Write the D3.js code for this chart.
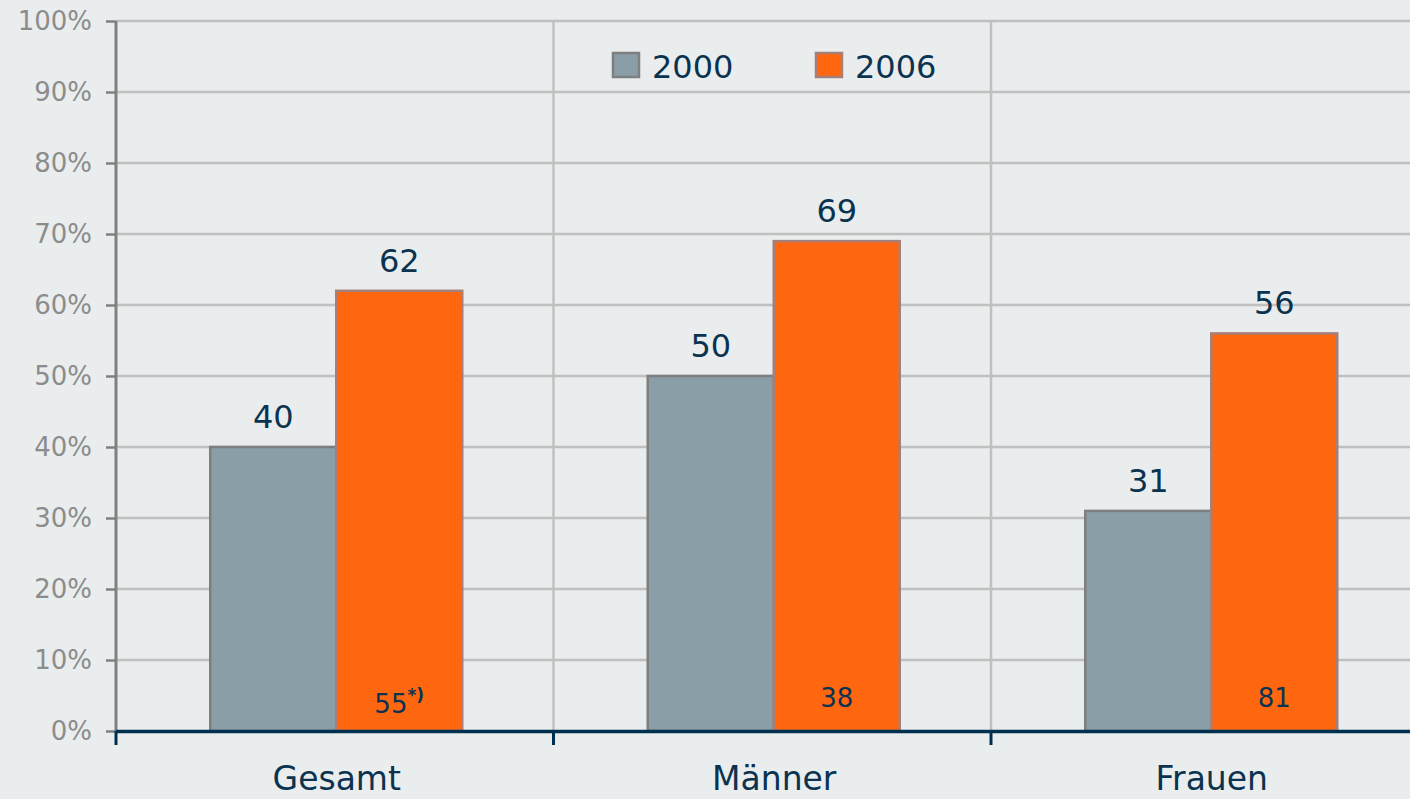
<!DOCTYPE html>
<html>
<head>
<meta charset="utf-8">
<script src="https://cdn.jsdelivr.net/npm/d3@7"></script>
<style>
  html, body { margin: 0; padding: 0; background: #e9edee; }
  svg { display: block; font-family: "DejaVu Sans", Verdana, sans-serif; }
</style>
</head>
<body>
<div id="chart"></div>
<script>
(function () {
    const categories = ['Gesamt', 'Männer', 'Frauen'];
    const series = ['2000', '2006'];
    const values2000 = [40, 50, 31];
    const values2006 = [62, 69, 56];
    const innerLabels = ['55', '38', '81'];
    const innerNotes = ['*)', '', ''];
    const yTicks = [0, 10, 20, 30, 40, 50, 60, 70, 80, 90, 100];

    const width = 1410;
    const height = 799;
    const margin = { top: 21, left: 116 };
    const plotH = 710;
    const bandW = 437.5;

    const colors = { '2000': '#8a9ea8', '2006': '#ff6610' };
    const strokes = { '2000': '#7f7f7f', '2006': '#a5807a' };
    const navy = '#0b3350';

    const data = categories.map((c, i) => ({
        cat: c,
        vals: [
            { key: '2000', v: values2000[i] },
            { key: '2006', v: values2006[i] }
        ],
        inner: innerLabels[i],
        note: innerNotes[i]
    }));

    const svg = d3.select('#chart').append('svg')
        .attr('width', width)
        .attr('height', height);

    const x0 = d3.scaleBand()
        .domain(categories)
        .range([margin.left, margin.left + bandW * categories.length]);

    const x1 = d3.scaleBand()
        .domain(series)
        .range([0, x0.bandwidth()])
        .paddingInner(0)
        .paddingOuter(0.736);

    const y = d3.scaleLinear().domain([0, 100]).range([margin.top + plotH, margin.top]);

    // gridlines
    const grid = svg.append('g');
    grid.selectAll('line.h')
        .data(yTicks.filter(t => t > 0))
        .enter().append('line')
        .attr('x1', margin.left)
        .attr('x2', width)
        .attr('y1', d => y(d))
        .attr('y2', d => y(d))
        .attr('stroke', '#c0c0c0')
        .attr('stroke-width', 2.5);

    grid.selectAll('line.v')
        .data(categories.slice(1))
        .enter().append('line')
        .attr('x1', d => x0(d))
        .attr('x2', d => x0(d))
        .attr('y1', y(100))
        .attr('y2', y(0))
        .attr('stroke', '#c0c0c0')
        .attr('stroke-width', 2.5);

    // y axis
    const yAxis = svg.append('g')
        .attr('transform', `translate(${margin.left},0)`)
        .call(d3.axisLeft(y).tickValues(yTicks).tickFormat(d => d + '%').tickSize(10).tickPadding(14));
    yAxis.select('.domain')
        .attr('stroke', '#808080')
        .attr('stroke-width', 3)
        .attr('d', `M0,${y(100)}V${y(0)}`);
    yAxis.selectAll('.tick line').attr('stroke', '#808080').attr('stroke-width', 2.5);
    yAxis.selectAll('.tick text')
        .attr('fill', '#8c8c8c')
        .attr('font-size', 26)
        .attr('font-family', '"DejaVu Sans", Verdana, sans-serif');

    // bars
    const groups = svg.append('g').selectAll('g')
        .data(data)
        .enter().append('g')
        .attr('transform', d => `translate(${x0(d.cat)},0)`);

    groups.selectAll('rect')
        .data(d => d.vals)
        .enter().append('rect')
        .attr('x', d => x1(d.key) + 1.5)
        .attr('y', d => y(d.v))
        .attr('width', x1.bandwidth())
        .attr('height', d => y(0) - y(d.v))
        .attr('fill', d => colors[d.key])
        .attr('stroke', d => strokes[d.key])
        .attr('stroke-width', 2.5);

    groups.selectAll('text.val')
        .data(d => d.vals)
        .enter().append('text')
        .attr('class', 'val')
        .attr('x', d => x1(d.key) + 1.5 + x1.bandwidth() / 2)
        .attr('y', d => y(d.v) - 19)
        .attr('text-anchor', 'middle')
        .attr('font-size', 32)
        .attr('fill', navy)
        .text(d => d.v);

    const inner = groups.append('text')
        .attr('x', x1('2006') + 1.5 + x1.bandwidth() / 2)
        .attr('y', d => d.note ? 713 : 707)
        .attr('text-anchor', 'middle')
        .attr('font-size', 26)
        .attr('fill', navy);
    inner.append('tspan').text(d => d.inner);
    inner.append('tspan')
        .attr('font-size', 17)
        .attr('font-weight', 'bold')
        .attr('dy', -12)
        .text(d => d.note);

    // baseline and bottom ticks
    svg.append('line')
        .attr('x1', margin.left)
        .attr('x2', width)
        .attr('y1', y(0) + 0.5)
        .attr('y2', y(0) + 0.5)
        .attr('stroke', '#00304f')
        .attr('stroke-width', 3.5);

    svg.append('g').selectAll('line')
        .data(categories)
        .enter().append('line')
        .attr('x1', d => x0(d))
        .attr('x2', d => x0(d))
        .attr('y1', y(0))
        .attr('y2', y(0) + 14)
        .attr('stroke', '#00304f')
        .attr('stroke-width', 3);

    // category labels
    svg.append('g').selectAll('text')
        .data(categories)
        .enter().append('text')
        .attr('x', d => x0(d) + x0.bandwidth() / 2 + 2)
        .attr('y', 790)
        .attr('text-anchor', 'middle')
        .attr('font-size', 33)
        .attr('fill', navy)
        .text(d => d);

    // legend
    const legendX = [612, 815];
    const legend = svg.append('g').selectAll('g')
        .data(series)
        .enter().append('g')
        .attr('transform', (d, i) => `translate(${legendX[i]},52)`);
    legend.append('rect')
        .attr('x', 1).attr('y', 1)
        .attr('width', 26).attr('height', 24)
        .attr('fill', d => colors[d])
        .attr('stroke', d => strokes[d])
        .attr('stroke-width', 2.5);
    legend.append('text')
        .attr('x', 40)
        .attr('y', 26)
        .attr('font-size', 32)
        .attr('fill', navy)
        .text(d => d);
})();
</script>
</body>
</html>
